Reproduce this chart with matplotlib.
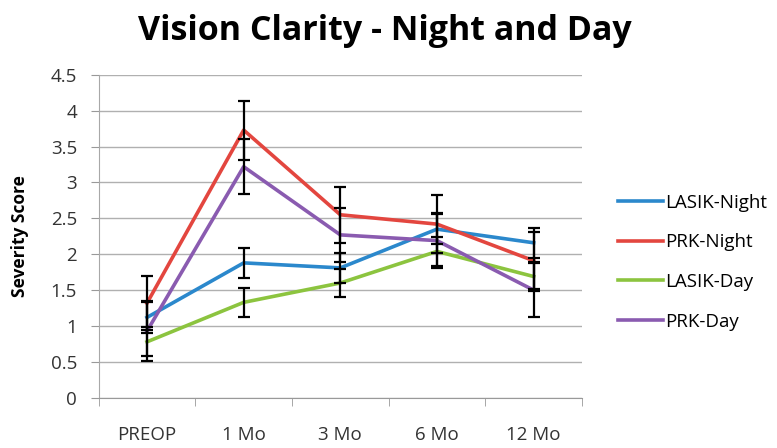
import matplotlib
matplotlib.use("Agg")
import matplotlib.pyplot as plt
import numpy as np

periods = ["PREOP", "1 Mo", "3 Mo", "6 Mo", "12 Mo"]

lasik_night = [1.12, 1.88, 1.81, 2.35, 2.16]
prk_night = [1.32, 3.73, 2.55, 2.42, 1.91]
lasik_day = [0.78, 1.33, 1.60, 2.04, 1.69]
prk_day = [0.93, 3.22, 2.27, 2.19, 1.50]

lasik_night_err = [0.21, 0.21, 0.21, 0.21, 0.21]
prk_night_err = [0.38, 0.41, 0.39, 0.40, 0.40]
lasik_day_err = [0.20, 0.20, 0.20, 0.20, 0.20]
prk_day_err = [0.42, 0.38, 0.38, 0.38, 0.38]

series = [
    ("LASIK-Night", lasik_night, lasik_night_err, "#2b88cc"),
    ("PRK-Night", prk_night, prk_night_err, "#e3463f"),
    ("LASIK-Day", lasik_day, lasik_day_err, "#8cc43f"),
    ("PRK-Day", prk_day, prk_day_err, "#8a5bb0"),
]

plt.rcParams["font.family"] = ["Open Sans", "DejaVu Sans"]

fig = plt.figure(figsize=(7.77, 4.48), dpi=100)
ax = fig.add_axes([0.127, 0.112, 0.622, 0.721])

x = np.arange(len(periods))
for name, vals, errs, color in series:
    ax.plot(x, vals, color=color, linewidth=2.6, label=name, zorder=3)
for name, vals, errs, color in series:
    ax.errorbar(x, vals, yerr=errs, fmt="none", ecolor="black",
                elinewidth=1.6, capsize=4, capthick=1.6, zorder=4)

ax.set_xlim(-0.5, len(periods) - 0.5)
ax.set_ylim(0, 4.5)
ax.set_yticks(np.arange(0, 4.51, 0.5))
ax.set_yticklabels(["0", "0.5", "1", "1.5", "2", "2.5", "3", "3.5", "4", "4.5"])
ax.set_xticks(x)
ax.set_xticklabels(periods)
ax.set_xticks(np.arange(-0.5, len(periods), 1), minor=True)
ax.tick_params(axis="x", which="major", length=0, pad=20, labelsize=13.5,
               labelcolor="#333333")
ax.tick_params(axis="x", which="minor", length=5.5, color="#999999")
ax.tick_params(axis="y", length=5.5, color="#999999", labelsize=13.5, pad=10,
               labelcolor="#333333")

ax.grid(axis="y", color="#b0b0b0", linewidth=1.0)
ax.set_axisbelow(True)
for side in ["top", "right"]:
    ax.spines[side].set_visible(False)
ax.spines["left"].set_color("#a8a8a8")
ax.spines["bottom"].set_color("#999999")

ax.set_ylabel("Severity Score", fontsize=12.5, fontweight="bold", labelpad=16)
fig.suptitle("Vision Clarity - Night and Day", fontsize=24.5, fontweight="bold",
             x=0.495, y=0.968)

ax.legend(loc="center left", bbox_to_anchor=(1.04, 0.42), frameon=False,
          fontsize=13.5, handlelength=2.4, handletextpad=0.1, labelspacing=1.15)

fig.savefig("out.png", dpi=100)
